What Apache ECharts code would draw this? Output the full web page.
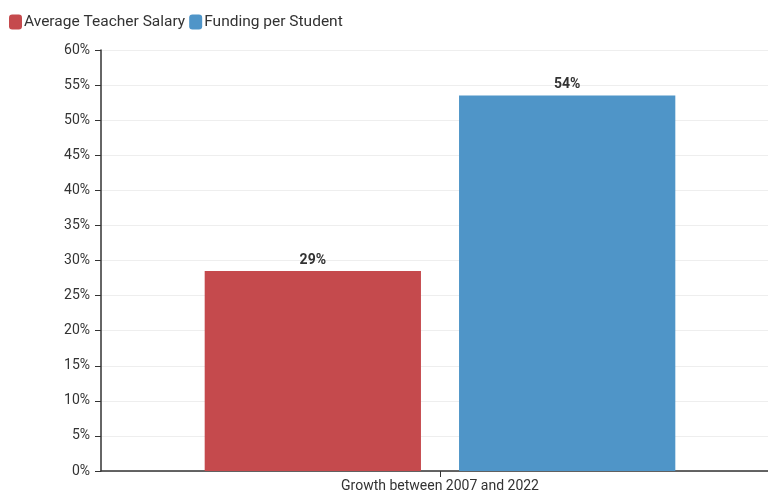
<!DOCTYPE html>
<html><head><meta charset="utf-8">
<script src="https://cdn.jsdelivr.net/npm/echarts@6/dist/echarts.min.js"></script>
<style>html,body{margin:0;padding:0;background:#fff}#c{width:768px;height:493px}</style>
</head><body><div id="c"></div>
<script>
var categories = ['Growth between 2007 and 2022'];
var salaryGrowth = [28.5];
var fundingGrowth = [53.5];
var yTicks = [0, 5, 10, 15, 20, 25, 30, 35, 40, 45, 50, 55, 60];

var chart = echarts.init(document.getElementById('c'));
var labelCfg = {show: true, position: 'top', distance: 4, color: '#333', fontWeight: 'bold', fontSize: 14, fontFamily: 'Roboto',
  formatter: function(p){ return Math.round(p.value) + '%'; }};
chart.setOption({
  animation: false,
  textStyle: {fontFamily: 'Roboto'},
  legend: {left: 4, top: 9, itemWidth: 13, itemHeight: 15, itemGap: 4,
    textStyle: {fontSize: 15.5, color: '#333', padding: [0,0,0,-3]},
    data: [{name: 'Average Teacher Salary', icon: 'roundRect'}, {name: 'Funding per Student', icon: 'roundRect'}]},
  grid: {left: 101, width: 678, top: 50, bottom: 22, outerBoundsMode: 'none'},
  xAxis: {type: 'category', data: categories,
    axisLine: {lineStyle: {color: '#333', width: 1.5}},
    axisTick: {show: true, alignWithLabel: true, length: 6, lineStyle: {color: '#333'}},
    axisLabel: {color: '#333', fontSize: 14, margin: 8}},
  yAxis: {type: 'value', min: yTicks[0], max: yTicks[yTicks.length-1], interval: 5,
    axisLine: {show: true, lineStyle: {color: '#333', width: 1.5}},
    axisTick: {show: true, length: 6, lineStyle: {color: '#333'}},
    axisLabel: {color: '#333', fontSize: 14, margin: 11, formatter: '{value}%'},
    splitLine: {lineStyle: {color: '#eee'}}},
  series: [
    {name: 'Average Teacher Salary', type: 'bar', data: salaryGrowth, barWidth: '31.9%', barGap: '17.6%',
      itemStyle: {color: '#c54a4d'}, label: labelCfg},
    {name: 'Funding per Student', type: 'bar', data: fundingGrowth, barWidth: '31.9%',
      itemStyle: {color: '#4f95c8'}, label: labelCfg}
  ]
});
</script></body></html>
